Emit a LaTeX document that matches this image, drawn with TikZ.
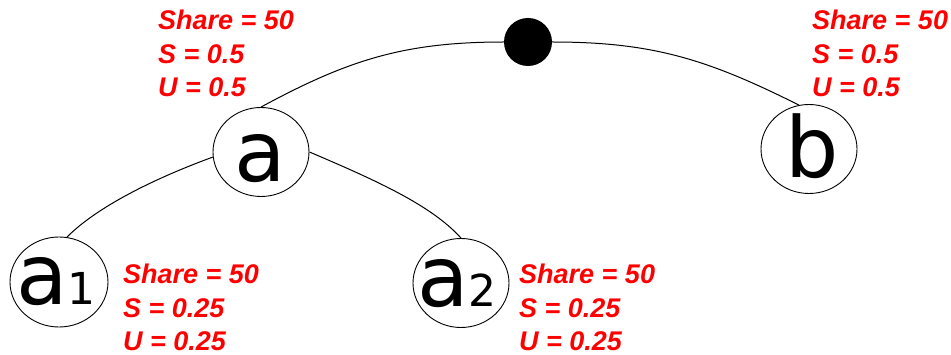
\documentclass[tikz,border=0pt]{standalone}
\usepackage{fontspec}
\usetikzlibrary{shapes.geometric}
\newfontfamily\labfont{Liberation Sans}
\newfontfamily\dvfont{DejaVu Sans}
\begin{document}
\begin{tikzpicture}[x=1pt,y=-1pt,
  treenode/.style={ellipse,draw=black,line width=0.9pt,minimum width=96pt,minimum height=89pt,inner sep=0pt},
  letter/.style={inner sep=0pt,anchor=base west,font=\dvfont\fontsize{84}{84}\selectfont},
  lab/.style={inner sep=0pt,anchor=base west,text=red,font=\labfont\bfseries\itshape\fontsize{27}{30}\selectfont},
  edge/.style={line width=1pt,black}]
\useasboundingbox (0,0) rectangle (951,355);
\node[circle,fill=black,minimum size=48pt,inner sep=0pt] (root) at (528,42) {};
\node[treenode] (a) at (261,152) {};
\node[treenode] (b) at (809,149) {};
\node[treenode,minimum width=98pt,minimum height=90pt] (a1) at (59,282) {};
\node[treenode] (a2) at (461,283) {};
\node[letter] (ta) at (234,182) {a};
\node[letter] (tb) at (785,178) {b};
\node[letter] (ta1) at (16,305) {a\fontsize{44}{44}\selectfont 1};
\node[letter] (ta2) at (417,307) {a\fontsize{44}{44}\selectfont 2};
\draw[edge] (root.west) .. controls (404,42) and (348,60) .. (a.north);
\draw[edge] (root.east) .. controls (652,42) and (707,59) .. (b.103);
\draw[edge] (a.186) .. controls (153,179) and (97,207) .. (a1.80);
\draw[edge] (a.east) .. controls (380,182) and (432,206) .. (a2.north);
\node[lab] (l1) at (158,30) {Share = 50};
\node[lab] (l2) at (158,63.5) {S = 0.5};
\node[lab] (l3) at (158,97) {U = 0.5};
\node[lab] (r1) at (812,30) {Share = 50};
\node[lab] (r2) at (812,63.5) {S = 0.5};
\node[lab] (r3) at (812,97) {U = 0.5};
\node[lab] (p1) at (123,284) {Share = 50};
\node[lab] (p2) at (123,317.5) {S = 0.25};
\node[lab] (p3) at (123,351) {U = 0.25};
\node[lab] (q1) at (519,284) {Share = 50};
\node[lab] (q2) at (519,317.5) {S = 0.25};
\node[lab] (q3) at (519,351) {U = 0.25};
\end{tikzpicture}
\end{document}
